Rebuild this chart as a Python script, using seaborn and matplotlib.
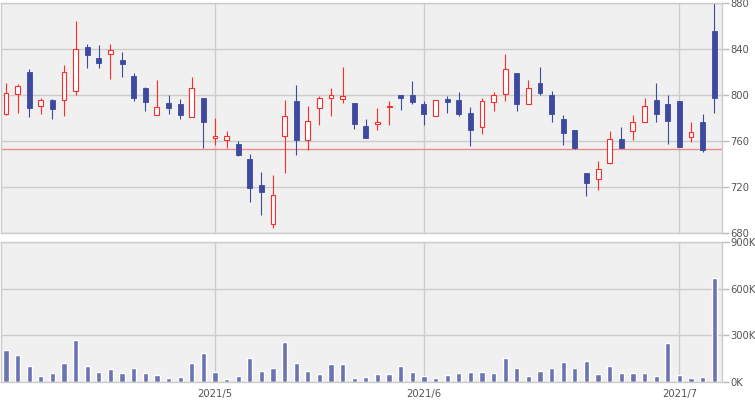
import numpy as np
import pandas as pd
import matplotlib
matplotlib.use('Agg')
import matplotlib.pyplot as plt
import seaborn as sns

# --- data ---
holidays = ['2021-04-29', '2021-05-03', '2021-05-04', '2021-05-05']
dates = pd.bdate_range('2021-04-06', '2021-07-06')
dates = dates[~dates.isin(pd.to_datetime(holidays))]

opens = [784, 801, 820, 791, 796, 796, 804, 842, 832, 836, 831, 817, 806, 783, 793, 792,
         781, 798, 763, 761, 758, 745, 722, 688, 765, 795, 761, 789, 798, 797, 793, 773,
         775, 790, 800, 800, 792, 782, 797, 796, 785, 772, 794, 801, 819, 792, 811, 800,
         779, 770, 732, 727, 741, 762, 769, 777, 796, 792, 795, 764, 777, 856]
highs = [811, 810, 823, 798, 797, 826, 865, 845, 844, 845, 838, 819, 807, 813, 800, 797,
         816, 798, 780, 769, 760, 749, 733, 731, 796, 809, 791, 799, 806, 825, 793, 779,
         789, 795, 800, 812, 795, 796, 799, 803, 790, 798, 803, 836, 819, 813, 825, 804,
         783, 770, 732, 743, 769, 772, 783, 798, 811, 800, 795, 777, 784, 880]
lows = [783, 785, 781, 784, 779, 782, 800, 824, 824, 814, 816, 795, 786, 783, 784, 779,
        781, 754, 757, 754, 747, 707, 696, 685, 732, 748, 752, 774, 782, 793, 771, 763,
        770, 774, 787, 792, 774, 782, 785, 782, 756, 766, 786, 795, 786, 792, 800, 777,
        757, 753, 712, 718, 740, 754, 761, 777, 777, 758, 755, 759, 751, 785]
closes = [802, 808, 789, 796, 788, 820, 840, 835, 828, 839, 827, 798, 794, 790, 789, 783,
          806, 777, 765, 765, 748, 719, 716, 713, 782, 761, 778, 798, 800, 799, 775, 763,
          777, 791, 798, 794, 784, 796, 794, 784, 770, 795, 800, 823, 792, 806, 802, 784,
          767, 754, 724, 736, 762, 754, 777, 791, 784, 778, 755, 768, 752, 798]
volumes = [206, 174, 103, 39, 58, 122, 270, 103, 64, 84, 58, 90, 58, 45, 26, 32,
           122, 186, 64, 19, 39, 154, 71, 90, 257, 122, 71, 51, 116, 116, 26, 32,
           51, 51, 103, 64, 39, 26, 45, 58, 64, 64, 58, 154, 90, 39, 71, 90,
           129, 90, 135, 51, 103, 58, 58, 58, 39, 251, 45, 26, 32, 669]  # thousands
ref_line = 753
price_ticks = [680, 720, 760, 800, 840, 880]
vol_ticks = [0, 300, 600, 900]
vol_tick_labels = ['0K', '300K', '600K', '900K']

df = pd.DataFrame({'date': dates, 'open': opens, 'high': highs, 'low': lows,
                   'close': closes, 'volume': np.array(volumes) * 1000})
df['idx'] = np.arange(len(df))
up = df['close'] >= df['open']

# --- style ---
sns.set_style('whitegrid', {'axes.facecolor': '#f0f0f0', 'grid.color': '#cccccc',
                            'axes.edgecolor': '#cccccc'})
plt.rcParams['font.family'] = ['DejaVu Sans']
RED = '#ff2b2b'
BLUE = '#3d4a9e'
VOL = '#6b73b2'
TXT = '#555555'

fig = plt.figure(figsize=(7.55, 4.0), dpi=100)
ax1 = fig.add_axes([1 / 755, 1 - 233.3 / 400, 721.3 / 755, 230 / 400])
ax2 = fig.add_axes([1 / 755, 1 - 382 / 400, 721.3 / 755, 139.7 / 400])

# candles
bw = 0.42
for mask, col in [(up, RED), (~up, BLUE)]:
    d = df[mask]
    ax1.vlines(d['idx'], d['low'], d['high'], color=col, lw=0.8, zorder=2)
body_lo = np.minimum(df['open'], df['close'])
body_h = np.maximum(np.abs(df['close'] - df['open']), 0.8)
ax1.bar(df['idx'][up], body_h[up], bottom=body_lo[up], width=bw,
        facecolor='white', edgecolor=RED, linewidth=0.8, zorder=3)
ax1.bar(df['idx'][~up], body_h[~up], bottom=body_lo[~up], width=bw,
        facecolor=BLUE, edgecolor=BLUE, linewidth=0.6, zorder=3)
ax1.axhline(ref_line, color='#ef8a8a', lw=1.0, zorder=1.5)

# volume
sns.barplot(data=df, x='idx', y='volume', native_scale=True, color=VOL,
            width=0.45, saturation=1, ax=ax2, zorder=2)

# axes
month_idx = df.index[df['date'].dt.month != df['date'].dt.month.shift()][1:]
monday_idx = df.index[df['date'].dt.weekday == 0]
for ax in (ax1, ax2):
    ax.set_xlim(-0.43, 61.7)
    ax.set_xticks(month_idx)
    ax.set_xticks(monday_idx, minor=True)
    ax.grid(True, which='major', color='#cccccc', lw=1.0)
    ax.grid(False, which='minor')
    ax.yaxis.tick_right()
    ax.tick_params(axis='y', which='major', length=5, color='#bbbbbb', width=1,
                   labelsize=7.2, labelcolor=TXT, pad=1)
    ax.tick_params(axis='x', which='major', length=0, labelsize=7.2, labelcolor=TXT, pad=5)
    ax.tick_params(axis='x', which='minor', length=4, color='#bbbbbb', width=1)
    for sp in ax.spines.values():
        sp.set_color('#cccccc')
        sp.set_linewidth(1.0)
    ax.set_xlabel('')
    ax.set_ylabel('')
    ax.set_axisbelow(True)

ax1.set_ylim(680, 880)
ax1.set_yticks(price_ticks)
ax1.set_xticklabels([])
ax1.tick_params(axis='x', which='minor', length=0)

ax2.set_ylim(0, 900000)
ax2.set_yticks([v * 1000 for v in vol_ticks])
ax2.set_yticklabels(vol_tick_labels)
ax2.set_xticklabels([f"{d.year}/{d.month}" for d in df['date'][month_idx]])

fig.savefig('out.png', dpi=100)
